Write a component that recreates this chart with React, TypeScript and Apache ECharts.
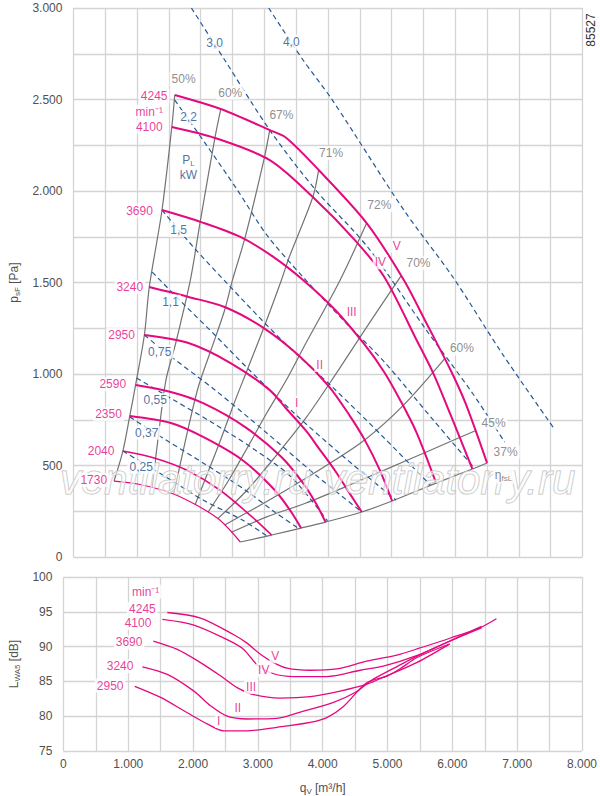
import React, { useEffect, useRef } from "react";
import * as echarts from "echarts";

const MAG = "#e5097f";
const GRAYLINE = "#737373";
const BLUE = "#235894";
const BLUE_TXT = "#1d4e8a";
const GRID = "#d4d4d4";
const AX_TXT = "#505050";
const EFF_TXT = "#707070";
const FONT = "Liberation Sans";

// ---------- top chart: fan curves (q [m3/h], p [Pa]) ----------
const n4245Q = [1592, 2315, 3085, 3346, 3854, 4608, 5192, 5546, 5915, 6161, 6500];
const n4245P = [2525, 2448, 2333, 2290, 2115, 1825, 1514, 1279, 1030, 841, 514];
const n4100Q = [1546, 2223, 3085, 3762, 4423, 4885, 5392, 5654, 5915, 6269];
const n4100P = [2350, 2290, 2169, 1967, 1732, 1530, 1186, 1005, 787, 481];
const n3690Q = [1392, 2008, 2623, 3146, 3608, 4115, 4577, 4885, 5146, 5392, 5700];
const n3690P = [1896, 1830, 1749, 1639, 1514, 1350, 1160, 1010, 850, 680, 404];
const n3240Q = [1192, 1808, 2377, 2992, 3546, 4008, 4346, 4577, 4808, 5008];
const n3240P = [1475, 1421, 1366, 1251, 1100, 935, 770, 640, 480, 306];
const n2950Q = [1115, 1808, 2469, 3085, 3346, 3654, 3854, 4115, 4346, 4531];
const n2950P = [1213, 1169, 1060, 912, 810, 690, 595, 470, 345, 246];
const n2590Q = [977, 1531, 2038, 2700, 3269, 3608, 3808, 3962];
const n2590P = [940, 902, 841, 710, 546, 404, 295, 191];
const n2350Q = [885, 1531, 2038, 2654, 3162, 3423, 3577];
const n2350P = [770, 732, 656, 530, 366, 246, 158];
const n2040Q = [777, 1269, 1777, 2300, 2808, 3115];
const n2040P = [579, 541, 475, 366, 219, 120];
const n1730Q = [638, 1008, 1531, 1931, 2300, 2623];
const n1730P = [415, 399, 350, 284, 202, 82];

// efficiency lines
const e50Q = [1592, 1546, 1392, 1192, 1115, 977, 885, 777, 638];
const e50P = [2525, 2350, 1896, 1475, 1213, 940, 770, 579, 415];
const e60aQ = [2315, 2223, 1992, 1838, 1608, 1454, 1346, 1238];
const e60aP = [2448, 2290, 1831, 1514, 1169, 967, 694, 380];
const e67Q = [3085, 2992, 2700, 2500, 2377, 2162, 1962, 1762, 1577];
const e67P = [2333, 2169, 1749, 1514, 1350, 1131, 929, 639, 346];
const e71Q = [3854, 3762, 3392, 3269, 3008, 2731, 2515, 2300, 2085, 1915];
const e71P = [2115, 1967, 1639, 1514, 1268, 1022, 831, 628, 437, 288];
const e72Q = [4608, 4192, 3654, 3346, 3038, 2731, 2423, 2115];
const e72P = [1825, 1514, 1169, 967, 787, 596, 410, 245];
const e70Q = [5146, 4577, 4115, 3654, 3192, 2731, 2269];
const e70P = [1535, 1240, 995, 760, 557, 366, 210];
const e60bQ = [5838, 5192, 4577, 3962, 3346, 2885, 2377];
const e60bP = [1085, 831, 639, 497, 366, 273, 175];
const e45Q = [6315, 5546, 4885, 4269, 3654, 3038, 2485];
const e45P = [690, 574, 475, 383, 295, 219, 135];
const e37Q = [6500, 6269, 5700, 5008, 4531, 3962, 3577, 3115, 2623];
const e37P = [514, 481, 404, 306, 246, 191, 158, 120, 82];

// power lines P_L [kW]
const p025Q = [777, 1531, 2038, 2654, 3069];
const p025P = [579, 421, 311, 202, 109];
const p037Q = [885, 1531, 2038, 2700, 3162, 3531];
const p037P = [765, 623, 514, 366, 246, 158];
const p055Q = [992, 1577, 2192, 2808, 3423, 3992];
const p055P = [978, 858, 732, 596, 437, 197];
const p075Q = [1115, 1500, 2223, 3038, 3808, 4531];
const p075P = [1213, 1104, 913, 678, 448, 246];
const p11Q = [1238, 1700, 2223, 2731, 3500, 4269, 5069];
const p11P = [1557, 1393, 1213, 1033, 776, 541, 311];
const p15Q = [1392, 1885, 2423, 3238, 4069, 4885, 5608];
const p15P = [1896, 1694, 1492, 1197, 929, 650, 393];
const p22Q = [1592, 2069, 2577, 3038, 3608, 4269, 4885, 5654, 6300];
const p22P = [2497, 2262, 2005, 1760, 1530, 1284, 1066, 749, 486];
const p30Q = [1854, 2377, 3085, 3808, 4623, 5546, 6269, 6777];
const p30P = [3000, 2716, 2333, 2005, 1694, 1240, 896, 628];
const p40Q = [3069, 3608, 4069, 5192, 5962, 6731, 7546];
const p40P = [3000, 2716, 2497, 1896, 1530, 1115, 705];

// ---------- bottom chart: sound power L_WA5 [dB] ----------
const sVQ = [1603, 2115, 2628, 2833, 3038, 3244, 3449, 3808, 4218, 4680, 5192, 5500, 5962, 6423, 6680];
const sVL = [94.9, 94.1, 91.7, 90.5, 88.9, 87.7, 86.9, 86.6, 86.8, 87.9, 88.9, 89.8, 91.2, 92.7, 94.0];
const sIVQ = [1526, 2013, 2526, 2782, 2987, 3244, 3551, 4064, 4577, 4936, 5449, 5962, 6449];
const sIVL = [93.9, 93.1, 91.0, 89.6, 87.4, 86.1, 85.7, 85.7, 86.6, 87.2, 88.7, 90.8, 92.9];
const sIIIQ = [1387, 1757, 2115, 2423, 2680, 2936, 3346, 3808, 4269, 4680, 4987, 5449, 5962];
const sIIIL = [90.8, 89.6, 87.7, 85.8, 84.1, 83.1, 82.6, 82.8, 83.6, 84.6, 85.8, 87.7, 90.4];
const sIIQ = [1218, 1603, 2013, 2269, 2526, 2833, 3295, 3654, 4167, 4500, 4760, 5100, 5449, 5962, 6449];
const sIIL = [87.1, 86.0, 83.6, 81.5, 80.0, 79.6, 79.7, 80.6, 82.0, 83.4, 85.2, 86.9, 88.6, 90.8, 92.7];
const sIQ = [1100, 1500, 1910, 2218, 2474, 2833, 3295, 3808, 4064, 4320, 4680, 5000, 5192, 5449, 5936];
const sIL = [84.3, 82.7, 80.5, 78.9, 77.9, 77.9, 78.4, 79.1, 79.8, 81.4, 84.8, 85.8, 86.8, 88.4, 90.3];

// ---------- labels ----------
const speedTxt = ["4245", "min⁻¹", "4100", "3690", "3240", "2950", "2590", "2350", "2040", "1730"];
const speedQ = [1269, 1192, 1192, 1038, 885, 757, 618, 551, 434, 320];
const speedP = [2519, 2433, 2351, 1892, 1477, 1213, 945, 781, 579, 421];
const effTxt = ["50%", "60%", "67%", "71%", "72%", "70%", "60%", "45%", "37%"];
const effQ = [1731, 2465, 3269, 4049, 4808, 5423, 6105, 6603, 6792];
const effP = [2612, 2537, 2415, 2206, 1923, 1605, 1140, 734, 572];
const powTxt = ["4,0", "3,0", "2,2", "1,5", "1,1", "0,75", "0,55", "0,37", "0,25"];
const powQ = [3423, 2218, 1808, 1654, 1526, 1357, 1285, 1151, 1064];
const powP = [2816, 2807, 2403, 1787, 1395, 1122, 858, 679, 493];
const romTxt = ["V", "IV", "III", "II", "I"];
const romQ = [5080, 4823, 4372, 3869, 3510];
const romP = [1701, 1610, 1340, 1049, 843];
const sSpeedTxt = ["min⁻¹", "4245", "4100", "3690", "3240", "2950"];
const sSpeedQ = [1269, 1218, 1151, 1013, 874, 721];
const sSpeedL = [97.9, 95.4, 93.4, 90.6, 87.2, 84.4];
const sRomQ = [3269, 3090, 2895, 2690, 2397];
const sRomL = [88.6, 86.6, 84.2, 81.2, 79.3];

const zip = (xs: number[], ys: number[]) => xs.map((x, i) => [x, ys[i]]);
const fmt = (v: number) =>
  v >= 1000 ? `${Math.floor(v / 1000)}.${String(v % 1000).padStart(3, "0")}` : String(v);

function line(xs: number[], ys: number[], color: string, width: number, grid: number, dashed = false, z = 2) {
  return {
    type: "line",
    xAxisIndex: grid,
    yAxisIndex: grid,
    data: zip(xs, ys),
    symbol: "none",
    smooth: 0.3,
    silent: true,
    z,
    lineStyle: { color, width, type: dashed ? [5, 3.5] : "solid", cap: "butt" },
  };
}

function labels(txts: string[], xs: number[], ys: number[], grid: number, color: string, fontSize = 12, bg = "#fff") {
  return {
    type: "scatter",
    xAxisIndex: grid,
    yAxisIndex: grid,
    silent: true,
    z: 10,
    symbolSize: 1,
    itemStyle: { color: "rgba(0,0,0,0)" },
    data: txts.map((t, i) => ({ name: t, value: [xs[i], ys[i]] })),
    label: {
      show: true,
      position: "inside",
      formatter: "{b}",
      color,
      fontSize,
      fontFamily: FONT,
      backgroundColor: bg,
      padding: [1, 2],
    },
  };
}

function richLabel(q: number, p: number, text: string, color: string, grid = 0) {
  return {
    type: "scatter",
    xAxisIndex: grid,
    yAxisIndex: grid,
    silent: true,
    z: 10,
    symbolSize: 1,
    itemStyle: { color: "rgba(0,0,0,0)" },
    data: [{ value: [q, p] }],
    label: {
      show: true,
      position: "inside",
      formatter: text,
      color,
      fontFamily: FONT,
      backgroundColor: "#fff",
      padding: [1, 2],
      rich: {
        a: { fontSize: 12, color, fontFamily: FONT, lineHeight: 15 },
        s: { fontSize: 8, color, fontFamily: FONT, lineHeight: 8, verticalAlign: "bottom" },
      },
    },
  };
}

const nameRich = {
  a: { fontSize: 12, color: AX_TXT, fontFamily: FONT, lineHeight: 15 },
  s: { fontSize: 8, color: AX_TXT, fontFamily: FONT, lineHeight: 8, verticalAlign: "bottom" },
};

export default function App() {
  const ref = useRef<HTMLDivElement>(null);
  useEffect(() => {
    if (!ref.current) return;
    const chart = echarts.init(ref.current, undefined, { renderer: "svg" });
    const splitLine = { show: true, lineStyle: { color: GRID, width: 1.3 } };
    const wm = { font: `italic 42px "${FONT}"`, fill: "rgba(255,255,255,0.55)", stroke: "#bdbdbd", lineWidth: 1 };
    const option: any = {
      animation: false,
      backgroundColor: "#fff",
      textStyle: { fontFamily: FONT },
      grid: [
        { left: 62.5, right: 17.5, top: 8, height: 549 },
        { left: 62.5, right: 17.5, top: 577, height: 175 },
      ],
      xAxis: [
        {
          gridIndex: 0, type: "value", min: 0, max: 8000, interval: 500,
          axisLine: { show: false }, axisTick: { show: false }, axisLabel: { show: false }, splitLine,
        },
        {
          gridIndex: 1, type: "value", min: 0, max: 8000, interval: 500,
          axisLine: { show: false }, axisTick: { show: false }, splitLine,
          axisLabel: {
            formatter: (v: number) => (v % 1000 === 0 ? fmt(v) : ""),
            color: AX_TXT, fontSize: 12, fontFamily: FONT, margin: 7,
          },
          name: "{a|q}{s|V}{a| [m³/h]}",
          nameLocation: "middle",
          nameGap: 29,
          nameTextStyle: { rich: nameRich },
        },
      ],
      yAxis: [
        {
          gridIndex: 0, type: "value", min: 0, max: 3000, interval: 250,
          axisLine: { show: false }, axisTick: { show: false }, splitLine,
          axisLabel: {
            formatter: (v: number) => (v % 500 === 0 ? fmt(v) : ""),
            color: AX_TXT, fontSize: 12, fontFamily: FONT, margin: 11,
          },
          name: "{a|p}{s|sF}{a| [Pa]}",
          nameLocation: "middle",
          nameRotate: 90,
          nameGap: 47,
          nameTextStyle: { rich: nameRich },
        },
        {
          gridIndex: 1, type: "value", min: 75, max: 100, interval: 5,
          axisLine: { show: false }, axisTick: { show: false }, splitLine,
          axisLabel: { color: AX_TXT, fontSize: 12, fontFamily: FONT, margin: 11 },
          name: "{a|L}{s|WA5}{a| [dB]}",
          nameLocation: "middle",
          nameRotate: 90,
          nameGap: 39,
          nameTextStyle: { rich: nameRich },
        },
      ],
      graphic: [
        {
          type: "text", x: 591, y: 30, rotation: Math.PI / 2, z: 20,
          style: { text: "85527", font: `12px "${FONT}"`, fill: "#333", align: "center", verticalAlign: "middle" },
        },
        { type: "text", x: 60, y: 458, z: 6, silent: true, style: { text: "ventilatorry.ru", ...wm } },
        { type: "text", x: 324, y: 458, z: 6, silent: true, style: { text: "ventilatorry.ru", ...wm } },
      ],
      series: [
        // efficiency
        line(e50Q, e50P, GRAYLINE, 1.2, 0),
        line(e60aQ, e60aP, GRAYLINE, 1.2, 0),
        line(e67Q, e67P, GRAYLINE, 1.2, 0),
        line(e71Q, e71P, GRAYLINE, 1.2, 0),
        line(e72Q, e72P, GRAYLINE, 1.2, 0),
        line(e70Q, e70P, GRAYLINE, 1.2, 0),
        line(e60bQ, e60bP, GRAYLINE, 1.2, 0),
        line(e45Q, e45P, GRAYLINE, 1.2, 0),
        line(e37Q, e37P, GRAYLINE, 1.2, 0),
        // power
        line(p025Q, p025P, BLUE, 1.2, 0, true, 3),
        line(p037Q, p037P, BLUE, 1.2, 0, true, 3),
        line(p055Q, p055P, BLUE, 1.2, 0, true, 3),
        line(p075Q, p075P, BLUE, 1.2, 0, true, 3),
        line(p11Q, p11P, BLUE, 1.2, 0, true, 3),
        line(p15Q, p15P, BLUE, 1.2, 0, true, 3),
        line(p22Q, p22P, BLUE, 1.2, 0, true, 3),
        line(p30Q, p30P, BLUE, 1.2, 0, true, 3),
        line(p40Q, p40P, BLUE, 1.2, 0, true, 3),
        // speeds
        line(n4245Q, n4245P, MAG, 2, 0, false, 4),
        line(n4100Q, n4100P, MAG, 2, 0, false, 4),
        line(n3690Q, n3690P, MAG, 2, 0, false, 4),
        line(n3240Q, n3240P, MAG, 2, 0, false, 4),
        line(n2950Q, n2950P, MAG, 2, 0, false, 4),
        line(n2590Q, n2590P, MAG, 2, 0, false, 4),
        line(n2350Q, n2350P, MAG, 2, 0, false, 4),
        line(n2040Q, n2040P, MAG, 1.6, 0, false, 4),
        line(n1730Q, n1730P, MAG, 1.2, 0, false, 4),
        // sound
        line(sVQ, sVL, MAG, 1.3, 1),
        line(sIVQ, sIVL, MAG, 1.3, 1),
        line(sIIIQ, sIIIL, MAG, 1.3, 1),
        line(sIIQ, sIIL, MAG, 1.3, 1),
        line(sIQ, sIL, MAG, 1.3, 1),
        // labels
        labels(speedTxt, speedQ, speedP, 0, MAG),
        labels(effTxt, effQ, effP, 0, EFF_TXT),
        labels(powTxt, powQ, powP, 0, BLUE_TXT),
        labels(romTxt, romQ, romP, 0, MAG),
        richLabel(1808, 2130, "{a|P}{s|L}\n{a|kW}", BLUE_TXT),
        richLabel(6757, 448, "{a|η}{s|fsL}", "#666"),
        labels(sSpeedTxt, sSpeedQ, sSpeedL, 1, MAG),
        labels(romTxt, sRomQ, sRomL, 1, MAG),
      ],
    };
    chart.setOption(option);
    return () => chart.dispose();
  }, []);
  return (
    <div
      ref={ref}
      style={{ position: "absolute", left: 0, top: 0, width: 600, height: 796, background: "#fff" }}
    />
  );
}
